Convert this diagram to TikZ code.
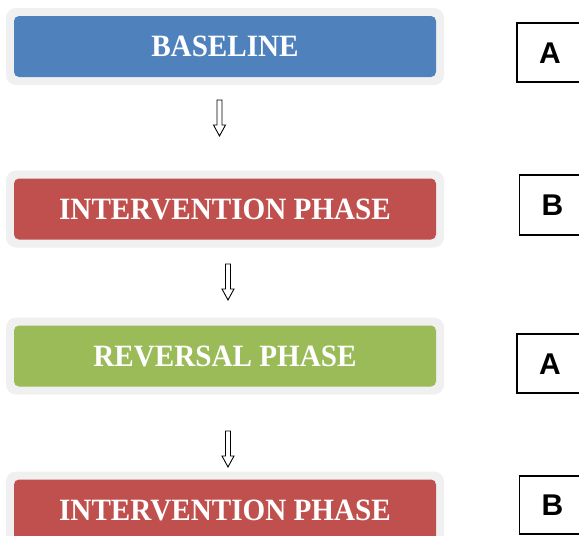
\documentclass[tikz,border=0pt]{standalone}
\usepackage{fontspec}
\newfontfamily\boxfont{Liberation Serif}[FakeStretch=0.94]
\newfontfamily\letterfont{Liberation Sans}
\definecolor{blueC}{HTML}{4F81BD}
\definecolor{redC}{HTML}{C0504D}
\definecolor{greenC}{HTML}{9BBB59}
\definecolor{greyC}{HTML}{F0F0F0}
\tikzset{
  outerbox/.style={fill=greyC, rounded corners=10pt, minimum width=438pt, minimum height=77pt, inner sep=0pt},
  phasebox/.style={rounded corners=5pt, minimum width=422pt, minimum height=61pt, inner sep=0pt,
    text=white, font=\boxfont\bfseries\fontsize{31}{36}\selectfont, text height=20.5pt, text depth=0pt},
  letterbox/.style={draw=black, line width=1.6pt, minimum width=66pt, inner sep=0pt,
    font=\letterfont\bfseries\fontsize{30}{36}\selectfont, text height=21.5pt, text depth=0pt},
  hollowarrow/.pic={\draw[line width=0.9pt, fill=white, line join=miter]
    (-2.5,0) -- (-2.5,25) -- (-6,25) -- (0,36) -- (6,25) -- (2.5,25) -- (2.5,0) -- cycle;}
}
\begin{document}
\begin{tikzpicture}[x=1pt, y=-1pt]
\clip (0,0) rectangle (579,536);
\fill[white] (0,0) rectangle (579,536);

% phase boxes
\node[outerbox] (o1) at (225,46.5) {};
\node[phasebox, fill=blueC] (p1) at (225,46.5) {BASELINE};
\node[outerbox] (o2) at (225,209) {};
\node[phasebox, fill=redC] (p2) at (225,209) {INTERVENTION PHASE};
\node[outerbox] (o3) at (225,356) {};
\node[phasebox, fill=greenC] (p3) at (225,356) {REVERSAL PHASE};
\node[outerbox] (o4) at (225,510) {};
\node[phasebox, fill=redC] (p4) at (225,510) {INTERVENTION PHASE};

% letter boxes
\node[letterbox, minimum height=59pt] (l1) at (550,52.5) {A};
\node[letterbox, minimum height=60pt] (l2) at (552.5,205) {B};
\node[letterbox, minimum height=59pt] (l3) at (550,363.5) {A};
\node[letterbox, minimum height=58pt] (l4) at (552.5,505) {B};

% arrows
\coordinate (a1) at (219.5,100);
\coordinate (a2) at (228,264);
\coordinate (a3) at (228,431);
\pic at (a1) {hollowarrow};
\pic at (a2) {hollowarrow};
\pic at (a3) {hollowarrow};
\end{tikzpicture}
\end{document}
